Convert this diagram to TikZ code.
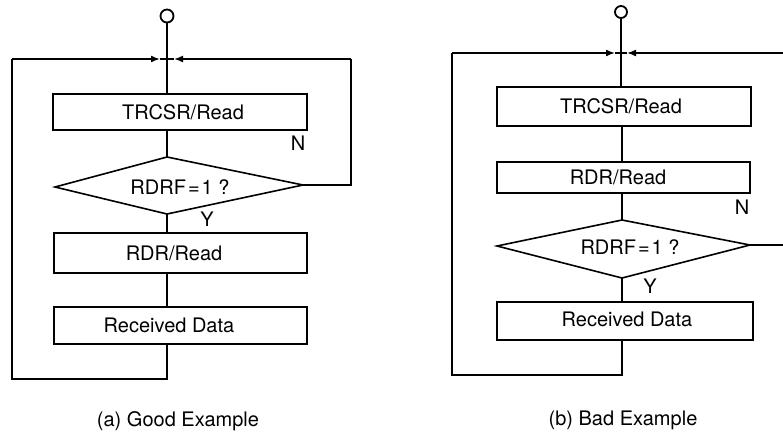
\documentclass[tikz,border=0pt]{standalone}
\usepackage{fontspec}
\setmainfont{TeX Gyre Heros}
\usetikzlibrary{arrows.meta}
\begin{document}
\begin{tikzpicture}[x=1pt,y=-1pt,
  every path/.style={line width=1.6pt},
  procbox/.style={draw,rectangle,inner sep=0pt,line width=1.6pt},
  lbl/.style={inner sep=0pt,font=\fontsize{20}{24}\selectfont},
  termcirc/.style={draw,circle,inner sep=0pt,line width=1.8pt},
  flow/.style={line width=1.6pt},
  arr/.style={line width=1.6pt,-{Latex[length=9pt,width=7pt]}}]
\useasboundingbox (0,0) rectangle (783,437);
% ---------------- (a) Good Example ----------------
\node[termcirc,minimum size=13pt] (c1) at (167,16) {};
\coordinate (j1) at (167,59);
\node[procbox,minimum width=254pt,minimum height=36pt] (a1) at (180,112) {};
\node[lbl] (a1t) at (183,112) {TRCSR/Read};
\coordinate (adT) at (167,157);
\coordinate (adR) at (303,185);
\coordinate (adB) at (167,214);
\coordinate (adL) at (55,187);
\draw (adT) -- (adR) -- (adB) -- (adL) -- cycle;
\node[lbl] (adt) at (180,187) {RDRF\hspace{2pt}=\hspace{2pt}1 ?};
\node[procbox,minimum width=253pt,minimum height=40pt] (a2) at (180.5,253) {};
\node[lbl] (a2t) at (174,253) {RDR/Read};
\node[procbox,minimum width=253pt,minimum height=37pt] (a3) at (180.5,325.5) {};
\node[lbl] (a3t) at (169,325.5) {Received Data};
\node[lbl] (aN) at (298,143) {N};
\node[lbl] (aY) at (207,219) {Y};
\node[lbl] (acap) at (178,421) {(a) Good Example};
\coordinate (aBL) at (12,379);
\coordinate (aTL) at (12,59);
\coordinate (aArrL) at (160,59);
\coordinate (aArrR) at (174,59);
\coordinate (aRR) at (351,185);
\coordinate (aTR) at (351,59);
\draw[flow] (c1.south) -- (j1) -- (j1 |- a1.north);
\draw[flow] (j1 |- a1.south) -- (adT);
\draw[flow] (adB) -- (adB |- a2.north);
\draw[flow] (adB |- a2.south) -- (adB |- a3.north);
\draw[flow] (adB |- a3.south) -- (adB |- aBL) -- (aBL) -- (aTL);
\draw[arr] (aTL) -- (aArrL);
\draw[flow] (aArrL) -- (j1);
\draw[flow] (adR) -- (aRR) -- (aTR);
\draw[arr] (aTR) -- (aArrR);
\draw[flow] (aArrR) -- (j1);
% ---------------- (b) Bad Example ----------------
\node[termcirc,minimum size=12pt] (c2) at (621,12) {};
\coordinate (j2) at (621,53);
\node[procbox,minimum width=254pt,minimum height=39pt] (b1) at (624,106.5) {};
\node[lbl] (b1t) at (621,106.5) {TRCSR/Read};
\node[procbox,minimum width=253pt,minimum height=31pt] (b2) at (623.5,177.5) {};
\node[lbl] (b2t) at (618,177.5) {RDR/Read};
\coordinate (bdT) at (622,220);
\coordinate (bdR) at (750,245);
\coordinate (bdB) at (622,278);
\coordinate (bdL) at (497,246);
\draw (bdT) -- (bdR) -- (bdB) -- (bdL) -- cycle;
\node[lbl] (bdt) at (630,247) {RDRF\hspace{2pt}=\hspace{2pt}1 ?};
\node[procbox,minimum width=256pt,minimum height=38pt] (b3) at (625,321) {};
\node[lbl] (b3t) at (627,319) {Received Data};
\node[lbl] (bN) at (742,207) {N};
\node[lbl] (bY) at (650,286) {Y};
\node[lbl] (bcap) at (623,420) {(b) Bad Example};
\coordinate (bBL) at (452,375);
\coordinate (bTL) at (452,53);
\coordinate (bArrL) at (615,53);
\coordinate (bArrR) at (627,53);
\coordinate (bRR) at (783,245);
\coordinate (bTR) at (783,53);
\draw[flow] (c2.south) -- (j2) -- (j2 |- b1.north);
\draw[flow] (bdT |- b1.south) -- (bdT |- b2.north);
\draw[flow] (bdT |- b2.south) -- (bdT);
\draw[flow] (bdB) -- (bdB |- b3.north);
\draw[flow] (bdB |- b3.south) -- (bdB |- bBL) -- (bBL) -- (bTL);
\draw[arr] (bTL) -- (bArrL);
\draw[flow] (bArrL) -- (j2);
\draw[flow] (bdR) -- (bRR);
\draw[arr] (bTR) -- (bArrR);
\draw[flow] (bArrR) -- (j2);
\end{tikzpicture}
\end{document}
